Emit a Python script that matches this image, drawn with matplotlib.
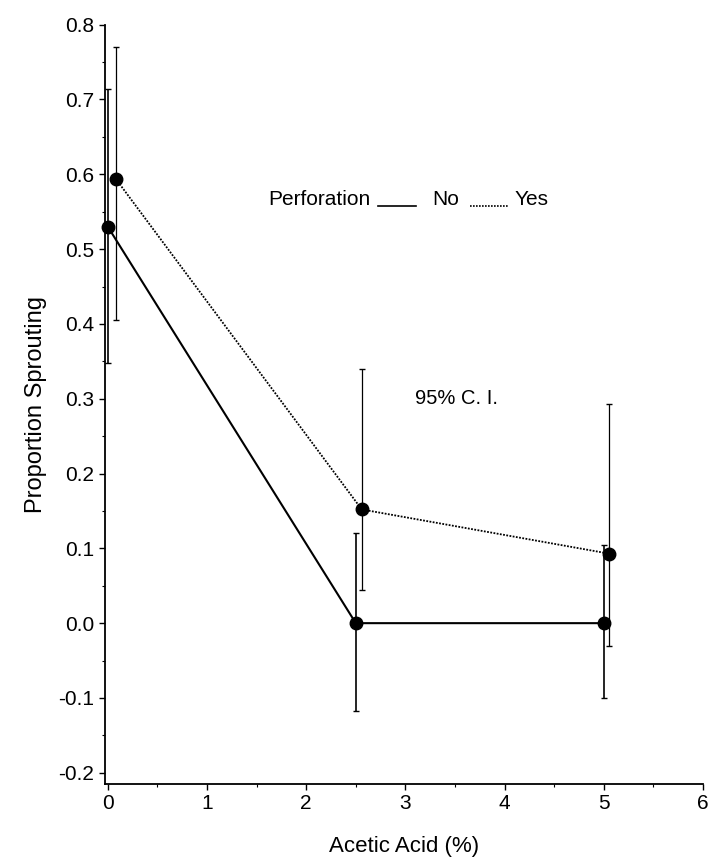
import matplotlib
matplotlib.use('Agg')
import matplotlib.pyplot as plt
from matplotlib.lines import Line2D
from matplotlib.ticker import MultipleLocator

plt.rcParams['font.family'] = ['Liberation Sans', 'DejaVu Sans']

# 数据
no_x = [0.0, 2.5, 5.0]
no_p = [0.53, 0.0, 0.0]
no_lo = [0.348, -0.118, -0.10]
no_hi = [0.714, 0.12, 0.105]

yes_x = [0.08, 2.56, 5.05]
yes_p = [0.594, 0.152, 0.093]
yes_lo = [0.405, 0.044, -0.03]
yes_hi = [0.77, 0.34, 0.293]

fig = plt.figure(figsize=(7.08, 8.59), dpi=100)
ax = fig.add_axes([0.148, 0.0873, 0.845, 0.884])

# 误差棒
no_err = [[p - l for p, l in zip(no_p, no_lo)], [h - p for p, h in zip(no_p, no_hi)]]
yes_err = [[p - l for p, l in zip(yes_p, yes_lo)], [h - p for p, h in zip(yes_p, yes_hi)]]
eb1 = ax.errorbar(no_x, no_p, yerr=no_err, fmt='none', ecolor='black', elinewidth=1.2,
                  capsize=2.5, capthick=1.0)
eb2 = ax.errorbar(yes_x, yes_p, yerr=yes_err, fmt='none', ecolor='black', elinewidth=0.9,
                  capsize=2.5, capthick=1.0)
for eb in (eb1, eb2):
    for art in eb.lines[1] + eb.lines[2]:
        art.set_clip_on(False)

# 折线
ax.plot(no_x, no_p, color='black', lw=1.5, marker='o', ms=9, clip_on=False, zorder=3)
ax.plot(yes_x, yes_p, color='black', lw=1.3, ls=(0, (1, 0.8)), marker='o', ms=9,
        clip_on=False, zorder=3)

ax.set_xlim(-0.03, 6.0)
ax.set_ylim(-0.215, 0.8)
ax.xaxis.set_major_locator(MultipleLocator(1))
ax.xaxis.set_minor_locator(MultipleLocator(0.5))
ax.yaxis.set_minor_locator(MultipleLocator(0.05))
ax.set_yticks([-0.2, -0.1, 0.0, 0.1, 0.2, 0.3, 0.4, 0.5, 0.6, 0.7, 0.8])
ax.set_yticklabels(['-0.2', '-0.1', '0.0', '0.1', '0.2', '0.3', '0.4', '0.5', '0.6', '0.7', '0.8'])
ax.tick_params(which='major', length=4, width=1, labelsize=15, direction='out')
ax.tick_params(which='minor', length=2, width=0.8, direction='out')
ax.spines['top'].set_visible(False)
ax.spines['right'].set_visible(False)
ax.spines['left'].set_linewidth(1.3)
ax.spines['bottom'].set_linewidth(1.3)

ax.set_xlabel('Acetic Acid (%)', fontsize=16, labelpad=16)
ax.set_ylabel('Proportion Sprouting', fontsize=17, labelpad=8)

# 图例 (手绘)
W, H = 708, 859
fig.text(268 / W, 1 - 205 / H, 'Perforation', fontsize=15, va='baseline')
fig.add_artist(Line2D([378 / W, 416 / W], [1 - 206 / H, 1 - 206 / H], color='black', lw=1.2))
fig.text(432 / W, 1 - 205 / H, 'No', fontsize=15, va='baseline')
fig.add_artist(Line2D([470 / W, 508 / W], [1 - 206 / H, 1 - 206 / H], color='black', lw=1.2,
                      ls=(0, (1, 0.8))))
fig.text(515 / W, 1 - 205 / H, 'Yes', fontsize=15, va='baseline')

fig.text(415 / W, 1 - 404 / H, '95% C. I.', fontsize=14.5, va='baseline')

fig.savefig('out.png', dpi=100)
